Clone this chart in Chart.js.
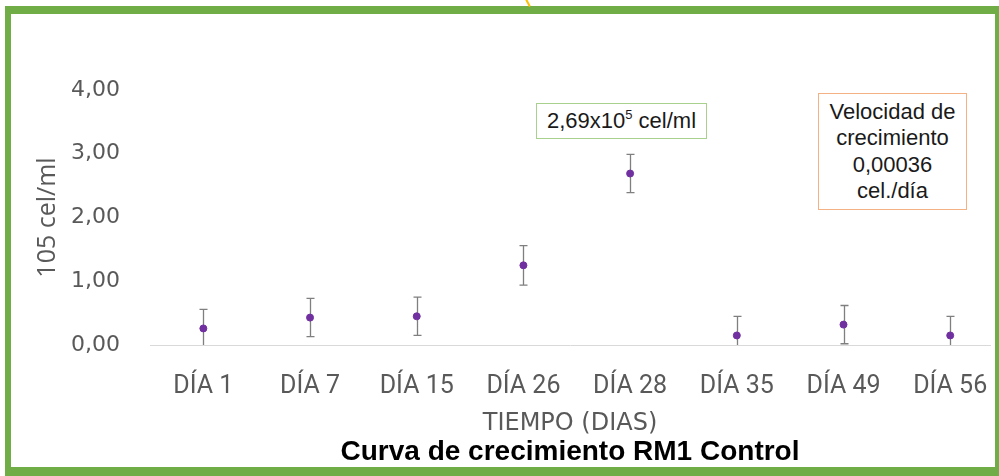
<!DOCTYPE html>
<html>
<head>
<meta charset="utf-8">
<script src="https://cdn.jsdelivr.net/npm/chart.js@4.4.1/dist/chart.umd.min.js"></script>
<style>
  body { margin: 0; background: #fff; }
  #lienzo { position: relative; width: 999px; height: 476px; overflow: hidden; background: #fff; }
  .marco {
    position: absolute; left: 5px; top: 6px; right: 0; bottom: 0;
    border-style: solid; border-color: #70ad47;
    border-width: 8px 4px 9px 6px;
    pointer-events: none;
  }
  .nota {
    position: absolute; box-sizing: border-box; background: #fff;
    font-family: "Liberation Sans", Arial, sans-serif; color: #1a1a1a; text-align: center;
  }
  .verde {
    left: 536px; top: 103px; width: 171px; height: 36px;
    border: 1.5px solid #a9d18e; font-size: 22px; line-height: 33px;
  }
  .verde sup { font-size: 13px; line-height: 0; vertical-align: 9px; }
  .naranja {
    left: 818px; top: 93px; width: 149px; height: 117px;
    border: 1.5px solid #f4b183; font-size: 22px; line-height: 26.3px; padding-top: 5px;
  }
  .flecha {
    position: absolute; left: 527px; top: -1px; width: 0; height: 8px;
    border-left: 2px solid #ffc000; transform: rotate(-28deg);
  }
</style>
</head>
<body>
<div id="lienzo">
  <canvas id="grafico" width="999" height="476"></canvas>
  <div class="marco"></div>
  <div class="flecha"></div>
  <div class="nota verde">2,69x10<sup>5</sup> cel/ml</div>
  <div class="nota naranja">Velocidad de<br>crecimiento<br>0,00036<br>cel./día</div>
</div>
<script>
// Curva de crecimiento RM1 Control

const dias = ['DÍA 1', 'DÍA 7', 'DÍA 15', 'DÍA 26', 'DÍA 28', 'DÍA 35', 'DÍA 49', 'DÍA 56']
const celulas = [0.26, 0.43, 0.45, 1.25, 2.69, 0.15, 0.32, 0.15]
const errores = [0.30, 0.30, 0.30, 0.31, 0.30, 0.30, 0.30, 0.30]
const yTicks = [0, 1, 2, 3, 4]

const puntos = celulas.map((v, i) => ({x: i, y: v}))

// barras de error, recortadas en cero
const errorBars = {
    id: 'errorBars',
    beforeDatasetsDraw(chart) {
        const {ctx, scales: {x, y}} = chart
        ctx.save()
        ctx.strokeStyle = '#7f7f7f'
        ctx.lineWidth = 1.3
        celulas.forEach((v, i) => {
            const px = Math.round(x.getPixelForValue(i)) + 0.5
            const alto = v + errores[i]
            const bajo = Math.max(0, v - errores[i])
            const top = y.getPixelForValue(alto)
            const bottom = y.getPixelForValue(bajo)
            ctx.beginPath()
            ctx.moveTo(px, top)
            ctx.lineTo(px, bottom)
            ctx.moveTo(px - 4, top)
            ctx.lineTo(px + 4, top)
            if (bajo > 0) {
                ctx.moveTo(px - 4, bottom)
                ctx.lineTo(px + 4, bottom)
            }
            ctx.stroke()
        })
        ctx.restore()
    }
}

const grafico = new Chart(document.getElementById('grafico').getContext('2d'), {
    type: 'scatter',
    data: {
        datasets: [{
            data: puntos,
            backgroundColor: '#7030a0',
            borderColor: '#7030a0',
            pointRadius: 3.5,
            pointHoverRadius: 3.5
        }]
    },
    options: {
        responsive: false,
        animation: false,
        devicePixelRatio: 1,
        layout: {padding: {top: 90, left: 0, right: 9, bottom: 7}},
        plugins: {
            legend: {display: false},
            tooltip: {enabled: false},
            title: {
                display: true,
                position: 'bottom',
                fullSize: false,
                text: 'Curva de crecimiento RM1 Control',
                color: '#000',
                font: {family: '"Liberation Sans", Arial, sans-serif', size: 28, weight: 'bold'},
                padding: 0
            }
        },
        scales: {
            x: {
                type: 'linear',
                min: -0.5,
                max: 7.373,
                afterBuildTicks: s => { s.ticks = dias.map((d, i) => ({value: i})) },
                afterFit: s => {
                    s.height = 90.4
                    s.paddingLeft = 0
                    s.paddingRight = 0
                },
                grid: {display: false, drawTicks: false},
                border: {display: true, color: '#d9d9d9', width: 1},
                ticks: {
                    callback: v => dias[v],
                    autoSkip: false,
                    maxRotation: 0,
                    padding: 27,
                    color: '#595959',
                    font: {family: 'Roboto, sans-serif', size: 25}
                },
                title: {
                    display: true,
                    text: 'TIEMPO (DIAS)',
                    color: '#595959',
                    font: {family: '"DejaVu Sans", sans-serif', size: 24},
                    padding: {top: 0, bottom: -3}
                }
            },
            y: {
                min: 0,
                max: 4,
                afterBuildTicks: s => { s.ticks = yTicks.map(v => ({value: v})) },
                afterFit: s => { s.width = 150 },
                grid: {display: false, drawTicks: false},
                border: {display: false},
                ticks: {
                    callback: v => v.toFixed(2).replace('.', ','),
                    padding: 30,
                    color: '#595959',
                    font: {family: '"DejaVu Sans", sans-serif', size: 22}
                },
                title: {
                    display: true,
                    text: '105 cel/ml',
                    color: '#595959',
                    font: {family: '"Open Sans", sans-serif', size: 25},
                    padding: {top: 33, bottom: 0}
                }
            }
        }
    },
    plugins: [errorBars]
})
</script>
</body>
</html>
